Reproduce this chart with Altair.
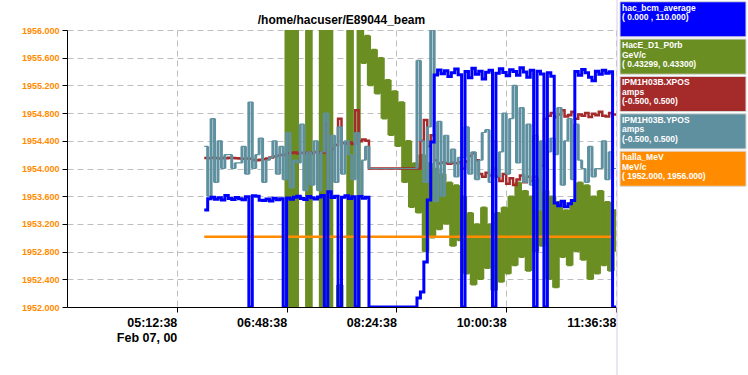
import altair as alt
import pandas as pd

# ---------------- data ----------------
START = "2000-02-07 05:36:38"   # first sample
STEP_MIN = 3                     # sample spacing (minutes)

# hac_bcm_average (uA), domain 0..110
bcm = [38.5,
       43.0, 43.6, 42.8, 43.4, 42.5, 44.3, 43.1, 42.7, 43.5, 43.0, 42.6, 43.8,
       0.0,
       44.2, 44.0, 42.4, 42.3, 42.9, 42.1, 43.2, 42.6, 43.0,
       0.0,
       43.3, 42.8, 43.6, 44.0, 43.1, 42.7, 43.9, 43.4, 42.9, 43.7, 44.3,
       0.0, 45.8, 43.5, 44.0, 0.0, 43.6, 44.2, 43.1, 43.8, 0.0, 43.9, 43.2, 43.6,
       0.0, 0.0, 0.0, 0.0, 0.0, 0.0, 0.0, 0.0, 0.0, 0.0, 0.0, 0.0, 0.0, 0.0,
       3.6, 6.0, 17.9, 42.5, 65.5, 92.1,
       94.1, 92.6, 93.8, 91.5, 93.0, 94.5, 92.2,
       0.0,
       93.5, 91.0, 94.8, 92.4, 93.6, 90.5, 93.2, 94.0,
       0.0,
       92.8, 94.6, 93.1, 91.8, 94.2, 93.5, 92.0, 95.0, 93.3, 91.2, 94.0,
       0.0, 93.6, 92.5, 0.0, 93.0, 91.6,
       41.3, 40.2, 42.0, 39.8, 41.0, 42.3,
       93.5, 92.0, 94.3, 93.0, 91.2, 89.8, 93.6, 92.4, 94.0, 92.8, 93.4,
       0.0, 0.0]

# HacE_D1_P0rb (GeV/c), domain 0.43299..0.43300 (values outside are clipped)
p0rb = [None] * 23 + [
    0.4329880,
    0.4330020, 0.4329880, 0.4330020, 0.4329880, 0.4329880, 0.4329880,
    0.4330020, 0.4329880, 0.4329880, 0.4329880, 0.4330020, 0.4329880,
    0.4330020, 0.4329880, 0.4329880, 0.4329908, 0.4329880, 0.4329880,
    0.4330020, 0.4329880, 0.4329880, 0.4330020,
    0.4329988, 0.4329998, 0.4329980, 0.4329993, 0.4329977, 0.4329990,
    0.4329968, 0.4329982, 0.4329962, 0.4329978, 0.4329958, 0.4329974,
    0.4329945, 0.4329960, 0.4329936, 0.4329952, 0.4329934, 0.4329955,
    0.4329920, 0.4329952, 0.4329925, 0.4329950, 0.4329928, 0.4329948,
    0.4329930, 0.4329945, 0.4329922, 0.4329944, 0.4329924, 0.4329940,
    0.4329912, 0.4329934, 0.4329908, 0.4329930, 0.4329910, 0.4329936,
    0.4329914, 0.4329930, 0.4329906, 0.4329934, 0.4329909, 0.4329936,
    0.4329912, 0.4329940, 0.4329915, 0.4329945, 0.4329918, 0.4329942,
    0.4329913, 0.4329940, 0.4329920, 0.4329946, 0.4329922, 0.4329942,
    0.4329910, 0.4329940, 0.4329907, 0.4329938, 0.4329918, 0.4329935,
    0.4329915, 0.4329938, 0.4329920, 0.4329945, 0.4329917, 0.4329944,
    0.4329910, 0.4329940, 0.4329912, 0.4329942, 0.4329915, 0.4329938,
    0.4329913, 0.4329935, 0.4329920]

# IPM1H03B.XPOS (amps), domain -0.5..0.5
xpos = [0.038, 0.037, 0.039, 0.038, 0.036, 0.038, 0.037, 0.039, 0.038, 0.037, 0.036, 0.035, 0.036, 0.035,
        0.031, 0.030, 0.032, 0.033, 0.036, 0.040, 0.043, 0.046, 0.049, 0.050,
        0.055, 0.056, 0.058, 0.054, 0.057, 0.056, 0.058, 0.055, 0.060, 0.057, 0.058,
        0.160, -0.100, 0.070,
        0.085, 0.180, 0.092, 0.090, 0.094, 0.088, 0.210, 0.098, 0.105, 0.100,
        0.0, 0.0, 0.0, 0.0, 0.0, 0.0, 0.0, 0.0, 0.0, 0.0, 0.0, 0.0, 0.0, 0.0, 0.0,
        0.100, 0.175, 0.080, 0.120, 0.030,
        0.018, 0.022, 0.020, 0.017, 0.021, 0.019, 0.023,
        0.0,
        0.025, 0.045, 0.055, 0.030, -0.020, -0.030, -0.015, -0.025,
        0.0,
        -0.030, -0.045, -0.020, -0.055, -0.035, -0.060, -0.040, -0.025, -0.050, -0.030, -0.045,
        -0.030, -0.040, 0.010, 0.180,
        0.190, 0.200, 0.185, 0.195, 0.210, 0.188, 0.192, 0.205, 0.180, 0.195, 0.190,
        0.200, 0.186, 0.198, 0.192, 0.205, 0.190, 0.188, 0.200, 0.195, 0.190]

# IPM1H03B.YPOS (amps), domain -0.5..0.5
ypos = [0.08, -0.10, 0.18, -0.05, 0.10, 0.00, 0.05, 0.05, 0.00, 0.02, 0.02, 0.08, -0.02,
        0.24, 0.00, 0.05, 0.11, -0.05, 0.03, 0.04, 0.10, -0.02, 0.08, -0.04, 0.13, -0.07,
        0.03, 0.02, 0.16, -0.08, 0.06, -0.06, 0.10, -0.08, 0.06, 0.20, -0.10, 0.12, -0.05,
        0.15, -0.02, 0.10, 0.05, -0.04, 0.13, -0.10, 0.03, 0.08,
        0.0, 0.0, 0.0, 0.0, 0.0, 0.0, 0.0, 0.0, 0.0, 0.0, 0.0, 0.0, 0.0, 0.0,
        0.39, 0.10, -0.05, 0.15, 0.50, -0.12, 0.17, -0.10, 0.12, 0.02, 0.07, -0.03, 0.04,
        0.04, 0.15, -0.02, 0.06, -0.04, 0.03, 0.13, 0.14, -0.05, 0.10, -0.03, 0.06, 0.20,
        -0.02, 0.18, 0.30, 0.02, 0.22, -0.05, 0.16, -0.06, 0.12, -0.15, 0.10, -0.08, 0.06,
        0.11, 0.05, 0.22, -0.06, 0.10, 0.18, -0.04, 0.16, 0.03, 0.00, -0.05, 0.08, -0.03,
        0.00, 0.00, 0.10, -0.04, 0.06, 0.00, 0.00]

# halla_MeV (MeV/c), domain 1952..1956
halla_times = ["2000-02-07 05:36:38", "2000-02-07 11:33:38"]
halla = [1953.015, 1953.015]

legend_names = ["hac_bcm_average", "HacE_D1_P0rb", "IPM1H03B.XPOS", "IPM1H03B.YPOS", "halla_MeV"]
legend_units = [" ", "GeV/c", "amps", "amps", "MeV/c"]
legend_ranges = ["( 0.000 , 110.000)", "( 0.43299, 0.43300)", "(-0.500, 0.500)",
                 "(-0.500, 0.500)", "( 1952.000, 1956.000)"]
colors = ["#0000ff", "#6b8e23", "#a52a2a", "#5f909f", "#ff8c00"]

y_ticks = [1952.0, 1952.4, 1952.8, 1953.2, 1953.6, 1954.0, 1954.4, 1954.8, 1955.2, 1955.6, 1956.0]
x_tick_times = [(5, 12, 38), (6, 48, 38), (8, 24, 38), (10, 0, 38), (11, 36, 38)]

# ---------------- frames ----------------
times = pd.date_range(START, periods=len(bcm), freq=f"{STEP_MIN}min")
df = pd.DataFrame({"time": times, "bcm": bcm, "p0rb": p0rb, "xpos": xpos, "ypos": ypos})
df_green = df.dropna(subset=["p0rb"])
df_halla = pd.DataFrame({"time": pd.to_datetime(halla_times), "halla": halla})
df_leg = pd.DataFrame({
    "name": legend_names,
    "lines": [[n, u, r] for n, u, r in zip(legend_names, legend_units, legend_ranges)],
    "color": colors,
})

FONT = "Liberation Sans"
GRID = "#bebebe"


def dt(h, m, s):
    return alt.DateTime(year=2000, month=2, date=7, hours=h, minutes=m, seconds=s)


x_axis = alt.Axis(
    values=[dt(*t) for t in x_tick_times],
    labelExpr="timeFormat(datum.value, '%H:%M') == '05:12' ? "
              "[timeFormat(datum.value, '%H:%M:%S'), 'Feb 07, 00'] : timeFormat(datum.value, '%H:%M:%S')",
    labelAlign="right", labelBaseline="top", labelFont=FONT, labelFontSize=12.5,
    labelFontWeight="bold", labelColor="black", labelLineHeight=15, labelPadding=4,
    labelFlush=False, labelOverlap=False, tickSize=5, tickColor="black",
    domainColor="black", grid=True, gridColor=GRID, gridDash=[6, 4], title=None,
)
x_enc = alt.X("time:T", scale=alt.Scale(domain=[dt(3, 36, 38), dt(11, 36, 38)]), axis=x_axis)


def yscale(domain):
    return alt.Scale(domain=domain, nice=False, zero=False)


def series(data, field, domain, color, width=2.5, axis=None):
    return alt.Chart(data).mark_line(
        interpolate="step-after", color=color, strokeWidth=width, clip=True
    ).encode(
        x=x_enc,
        y=alt.Y(f"{field}:Q", scale=yscale(domain), axis=axis),
    )


def noisy(data, field, domain, color, line_w, bar_w):
    """strip-chart look: thin step line plus the vertical jumps drawn as bars"""
    line = series(data, field, domain, color, width=line_w)
    jumps = alt.Chart(data).transform_window(
        prev=f"lag({field})", sort=[alt.SortField("time")]
    ).transform_filter("isValid(datum.prev)").mark_rule(
        color=color, strokeWidth=bar_w, clip=True
    ).encode(
        x=x_enc,
        y=alt.Y(f"{field}:Q", scale=yscale(domain), axis=None),
        y2="prev:Q",
    )
    return alt.layer(line, jumps)


y_axis = alt.Axis(
    values=y_ticks, format=".3f", labelColor="#ff8c00", labelFont=FONT, labelFontSize=9,
    labelFontWeight="bold", labelPadding=3, labelFlush=False, tickSize=5, tickColor="black",
    domainColor="black", grid=True, gridColor=GRID, gridDash=[6, 4], title=None,
)

data_layer = alt.layer(
    noisy(df_green, "p0rb", [0.43299, 0.43300], colors[1], 1.5, 4.2),
    series(df, "xpos", [-0.5, 0.5], colors[2], width=2.5),
    noisy(df, "ypos", [-0.5, 0.5], colors[3], 1.2, 3.0),
    series(df_halla, "halla", [1952, 1956], colors[4], width=2.5, axis=y_axis),
    series(df, "bcm", [0, 110], colors[0], width=3),
).resolve_scale(y="independent")

leg_y = alt.Scale(domain=legend_names, range=[-29, 157], paddingInner=0.06, paddingOuter=0.02)
boxes = alt.Chart(df_leg).mark_rect(stroke="#d8d8d8", strokeWidth=1).encode(
    x=alt.value(553), x2=alt.value(679),
    y=alt.Y("name:N", scale=leg_y, axis=None),
    color=alt.Color("color:N", scale=None),
)
texts = alt.Chart(df_leg).mark_text(
    align="left", baseline="top", dx=2, dy=2, font=FONT, fontSize=8.5,
    fontWeight="bold", color="white", lineHeight=9.5,
).encode(
    x=alt.value(553),
    y=alt.Y("name:N", scale=leg_y, axis=None, bandPosition=0),
    text="lines:N",
)
edge = alt.Chart(pd.DataFrame({"a": [0]})).mark_rule(color="#d4cce4", strokeWidth=1).encode(
    x=alt.value(550), y=alt.value(-30), y2=alt.value(345)
)
legend_layer = alt.layer(boxes, texts, edge)

chart = alt.layer(data_layer, legend_layer).resolve_scale(y="independent").properties(
    width=549, height=277,
    padding={"left": 67, "top": 30, "right": 132, "bottom": 68},
    autosize=alt.AutoSizeParams(type="none"),
    background="white",
    title=alt.TitleParams("/home/hacuser/E89044_beam", font=FONT, fontSize=12,
                          fontWeight="bold", color="black", offset=4, dy=31, anchor="middle"),
).configure_view(stroke=None)

chart.save("out.html", embed_options={"renderer": "svg", "actions": False})
